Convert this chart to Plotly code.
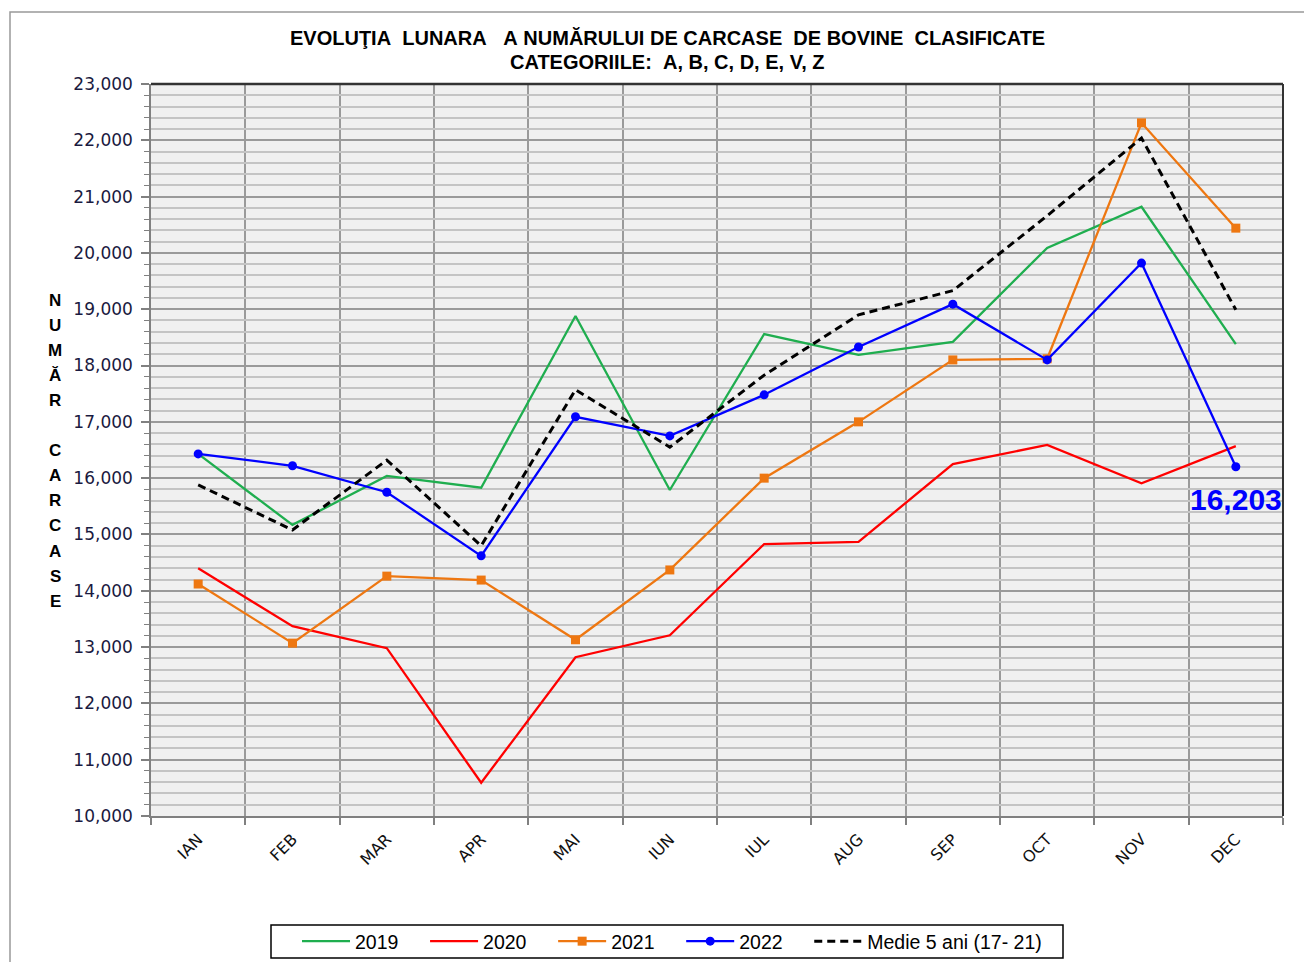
import plotly.graph_objects as go

months = ["IAN", "FEB", "MAR", "APR", "MAI", "IUN", "IUL", "AUG", "SEP", "OCT", "NOV", "DEC"]
y2019 = [16430, 15170, 16040, 15830, 18880, 15790, 18560, 18190, 18420, 20090, 20820, 18380]
y2020 = [14400, 13370, 12980, 10590, 12820, 13210, 14830, 14870, 16250, 16590, 15910, 16570]
y2021 = [14120, 13070, 14260, 14190, 13130, 14370, 16000, 17000, 18100, 18120, 22310, 20440]
y2022 = [16430, 16220, 15750, 14620, 17090, 16750, 17480, 18330, 19090, 18100, 19820, 16203]
medie = [15880, 15080, 16320, 14800, 17570, 16550, 17830, 18900, 19330, 20660, 22040, 18990]
series_names = ["2019", "2020", "2021", "2022", "Medie 5 ani (17- 21)"]

NB = "\u00a0"
title_line1 = "EVOLUŢIA  LUNARA   A NUMĂRULUI DE CARCASE  DE BOVINE  CLASIFICATE".replace(" ", NB)
title_line2 = "CATEGORIILE:  A, B, C, D, E, V, Z".replace(" ", NB)
y_title = "NUMĂR CARCASE"

xi = list(range(len(months)))
FONT = "Liberation Sans, Arial, sans-serif"
TFONT = "DejaVu Sans, Verdana, sans-serif"

W, H = 1304, 954   # page body has an 8px margin, figure sits at (8, 8)
OFF = 8

# screen-pixel -> paper helpers (plot area spans 151..1283 x, 84..816 y on screen)
def px(x):
    return (x - 151) / 1132

def py(y):
    return (816 - y) / 732

def cx(x):
    return (x - OFF) / W

def cy(y):
    return (H - (y - OFF)) / H

def pad(name):
    return name + NB * 4

fig = go.Figure()
fig.add_trace(go.Scatter(x=xi, y=y2019, name=pad(series_names[0]), mode="lines",
                         line=dict(color="#1fae4f", width=2.3)))
fig.add_trace(go.Scatter(x=xi, y=y2020, name=pad(series_names[1]), mode="lines",
                         line=dict(color="#ff0000", width=2.3)))
fig.add_trace(go.Scatter(x=xi, y=y2021, name=pad(series_names[2]), mode="lines+markers",
                         line=dict(color="#ee7711", width=2.3),
                         marker=dict(symbol="square", size=9, color="#ee7711")))
fig.add_trace(go.Scatter(x=xi, y=y2022, name=pad(series_names[3]), mode="lines+markers",
                         line=dict(color="#0000ff", width=2.3),
                         marker=dict(symbol="circle", size=9, color="#0000ff")))
fig.add_trace(go.Scatter(x=xi, y=medie, name=series_names[4], mode="lines",
                         line=dict(color="#000000", width=3, dash="8px,5px")))

# data label for last 2022 value
fig.add_annotation(x=xi[-1], y=y2022[-1], text="<b>{:,}</b>".format(y2022[-1]),
                   showarrow=False, yshift=-33, xshift=0, xanchor="center", yanchor="middle",
                   font=dict(family=FONT, size=30, color="#0000ff"))

# title
fig.add_annotation(xref="paper", yref="paper", x=px(667), y=py(38),
                   text="<b>" + title_line1 + "</b>", showarrow=False,
                   xanchor="center", yanchor="middle",
                   font=dict(family=FONT, size=20, color="#000000"))
fig.add_annotation(xref="paper", yref="paper", x=px(667), y=py(62),
                   text="<b>" + title_line2 + "</b>", showarrow=False,
                   xanchor="center", yanchor="middle",
                   font=dict(family=FONT, size=20, color="#000000"))

# vertical y-axis title, stacked letters
for k, ch in enumerate(y_title):
    if ch == " ":
        continue
    yy = 300 + k * 25.1
    fig.add_annotation(xref="paper", yref="paper", x=px(55), y=py(yy),
                       text="<b>" + ch + "</b>", showarrow=False,
                       xanchor="center", yanchor="middle",
                       font=dict(family=FONT, size=17, color="#000000"))

# outer chart frame
fig.add_shape(type="rect", xref="paper", yref="paper",
              x0=px(10), x1=px(1340), y0=py(990), y1=py(12),
              line=dict(color="#999999", width=1.5), layer="below")
# legend frame
fig.add_shape(type="rect", xref="paper", yref="paper",
              x0=px(271), x1=px(1063), y0=py(958), y1=py(925),
              line=dict(color="#000000", width=1.5), fillcolor="#ffffff", layer="below")
# dark top and right borders of plot area
fig.add_shape(type="line", xref="paper", yref="paper", x0=0, x1=1, y0=1, y1=1,
              line=dict(color="#333333", width=2.5))
fig.add_shape(type="line", xref="paper", yref="paper", x0=1, x1=1, y0=0, y1=1,
              line=dict(color="#333333", width=2))

fig.update_layout(
    width=W, height=H,
    margin=dict(l=143, r=29, t=76, b=146, autoexpand=False),
    paper_bgcolor="#ffffff",
    plot_bgcolor="#f0f0f0",
    font=dict(family=FONT, size=14, color="#000000"),
    showlegend=True,
    legend=dict(orientation="h", xref="container", yref="container",
                x=cx(297), xanchor="left", y=cy(941.5), yanchor="middle",
                borderwidth=0, bgcolor="rgba(0,0,0,0)",
                font=dict(family=FONT, size=19.5, color="#000000"),
                itemwidth=48, tracegroupgap=0),
)

fig.update_xaxes(
    range=[-0.5, 11.5], tickmode="array", tickvals=xi, ticktext=months,
    tickangle=-45, ticks="", showgrid=False, zeroline=False,
    showline=True, linecolor="#808080", linewidth=1.5,
    ticklabelstandoff=6, automargin=False,
    tickfont=dict(family=TFONT, size=16, color="#111111"),
    minor=dict(tickmode="linear", tick0=-0.5, dtick=1, ticks="outside", ticklen=7,
               tickcolor="#808080", tickwidth=1.5, showgrid=True,
               gridcolor="#9a9a9a", gridwidth=1.5),
)
fig.update_yaxes(
    range=[10000, 23000], tickmode="linear", tick0=10000, dtick=1000,
    tickformat=",d", ticks="outside", ticklen=8, tickcolor="#808080", tickwidth=1.5,
    showgrid=True, gridcolor="#9a9a9a", gridwidth=2.2, zeroline=False,
    showline=True, linecolor="#808080", linewidth=1.5,
    ticklabelstandoff=5, automargin=False,
    tickfont=dict(family=TFONT, size=17, color="#1a1a40"),
    minor=dict(tickmode="linear", tick0=10000, dtick=200, ticks="outside", ticklen=5,
               tickcolor="#808080", tickwidth=1, showgrid=True,
               gridcolor="#c4c4c4", gridwidth=1.5),
)

fig.write_html("out.html")
